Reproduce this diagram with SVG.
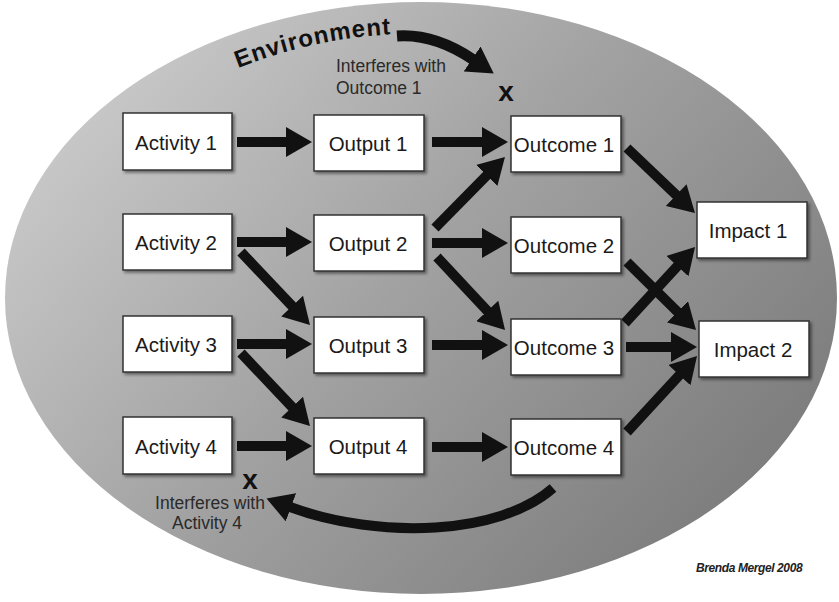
<svg xmlns="http://www.w3.org/2000/svg" width="839" height="602" viewBox="0 0 839 602">
  <style>
    .box rect { fill: #ffffff; stroke: #333333; stroke-width: 1.5; filter: url(#shadow); }
    .box text { font-family: "Liberation Sans", Arial, sans-serif; font-size: 20.5px; fill: #1a1a1a; text-anchor: middle; }
    .conn path { fill: none; stroke: #111111; stroke-width: 10; marker-end: url(#head); }
    .note { font-family: "Liberation Sans", Arial, sans-serif; font-size: 17.5px; fill: #2a2a2a; }
    .mark { font-family: "Liberation Sans", Arial, sans-serif; font-size: 28px; font-weight: bold; fill: #111111; text-anchor: middle; }
  </style>
  <defs>
    <linearGradient id="bg" gradientUnits="userSpaceOnUse" x1="140" y1="40" x2="720" y2="560">
      <stop offset="0" stop-color="#c8c8c8"/>
      <stop offset="0.45" stop-color="#a2a2a2"/>
      <stop offset="1" stop-color="#7b7b7b"/>
    </linearGradient>
    <filter id="shadow" x="-10%" y="-10%" width="130%" height="140%">
      <feDropShadow dx="2" dy="2" stdDeviation="1.5" flood-color="#000000" flood-opacity="0.45"/>
    </filter>
    <marker id="head" markerUnits="userSpaceOnUse" markerWidth="26" markerHeight="30" viewBox="0 0 26 30" refX="1" refY="15" orient="auto">
      <path d="M0,0 L26,15 L0,30 Z" fill="#111111"/>
    </marker>
    <path id="envPath" d="M238,68 Q320,36 402,34"/>
  </defs>

  <!-- environment background -->
  <ellipse id="environment" cx="421" cy="298" rx="416" ry="296" fill="url(#bg)"/>

  <text font-family="'Liberation Sans', Arial, sans-serif" font-size="24" font-weight="bold" fill="#111111" letter-spacing="1"><textPath href="#envPath">Environment</textPath></text>

  <g id="connectors" class="conn">
    <path d="M237,142 H287"/>
    <path d="M237,242 H287"/>
    <path d="M237,344 H287"/>
    <path d="M237,446 H287"/>
    <path d="M432,142 H483"/>
    <path d="M432,243 H483"/>
    <path d="M432,345 H483"/>
    <path d="M432,447 H483"/>
    <path d="M626,347 H672"/>
    <path d="M241,252 L292.8,306.8"/>
    <path d="M241,353 L292.8,407.8"/>
    <path d="M435,228 L487.4,174.8"/>
    <path d="M437,257 L488,311.7"/>
    <path d="M627,148 L676.9,195.7"/>
    <path d="M627,262 L678.2,312.5"/>
    <path d="M625,323 L678.1,265.4"/>
    <path d="M627,432 L680.1,374.4"/>
    <path d="M397,36 C425,34 450,44 473,59.5" style="stroke-width:11"/>
    <path d="M553,488 C500,535 380,540 290,507"/>
  </g>

  <text class="note" x="336" y="72">Interferes with</text>
  <text class="note" x="336" y="94">Outcome 1</text>
  <text class="mark" x="506" y="101">x</text>

  <text class="mark" x="250" y="489">x</text>
  <text class="note" x="210" y="509" text-anchor="middle">Interferes with</text>
  <text class="note" x="207" y="529" text-anchor="middle">Activity 4</text>

  <g id="activity1" class="box"><rect x="123" y="113" width="109" height="57"/><text x="176" y="150">Activity 1</text></g>
  <g id="activity2" class="box"><rect x="123" y="214" width="109" height="56"/><text x="176" y="250">Activity 2</text></g>
  <g id="activity3" class="box"><rect x="123" y="316" width="109" height="56"/><text x="176" y="352">Activity 3</text></g>
  <g id="activity4" class="box"><rect x="123" y="417" width="109" height="57"/><text x="176" y="454">Activity 4</text></g>

  <g id="output1" class="box"><rect x="314" y="115" width="110" height="56"/><text x="368" y="151">Output 1</text></g>
  <g id="output2" class="box"><rect x="314" y="215" width="110" height="56"/><text x="368" y="251">Output 2</text></g>
  <g id="output3" class="box"><rect x="314" y="317" width="110" height="56"/><text x="368" y="353">Output 3</text></g>
  <g id="output4" class="box"><rect x="314" y="418" width="110" height="56"/><text x="368" y="454">Output 4</text></g>

  <g id="outcome1" class="box"><rect x="511" y="116" width="110" height="56"/><text x="564" y="152">Outcome 1</text></g>
  <g id="outcome2" class="box"><rect x="511" y="217" width="110" height="56"/><text x="564" y="253">Outcome 2</text></g>
  <g id="outcome3" class="box"><rect x="511" y="319" width="110" height="56"/><text x="564" y="355">Outcome 3</text></g>
  <g id="outcome4" class="box"><rect x="511" y="419" width="110" height="56"/><text x="564" y="455">Outcome 4</text></g>

  <g id="impact1" class="box"><rect x="697" y="202" width="110" height="56"/><text x="748" y="238">Impact 1</text></g>
  <g id="impact2" class="box"><rect x="699" y="321" width="110" height="56"/><text x="753" y="357">Impact 2</text></g>

  <text x="696" y="572" font-family="'Liberation Sans', Arial, sans-serif" font-size="12" font-weight="bold" font-style="italic" letter-spacing="-0.4" fill="#222222">Brenda Mergel 2008</text>
</svg>
